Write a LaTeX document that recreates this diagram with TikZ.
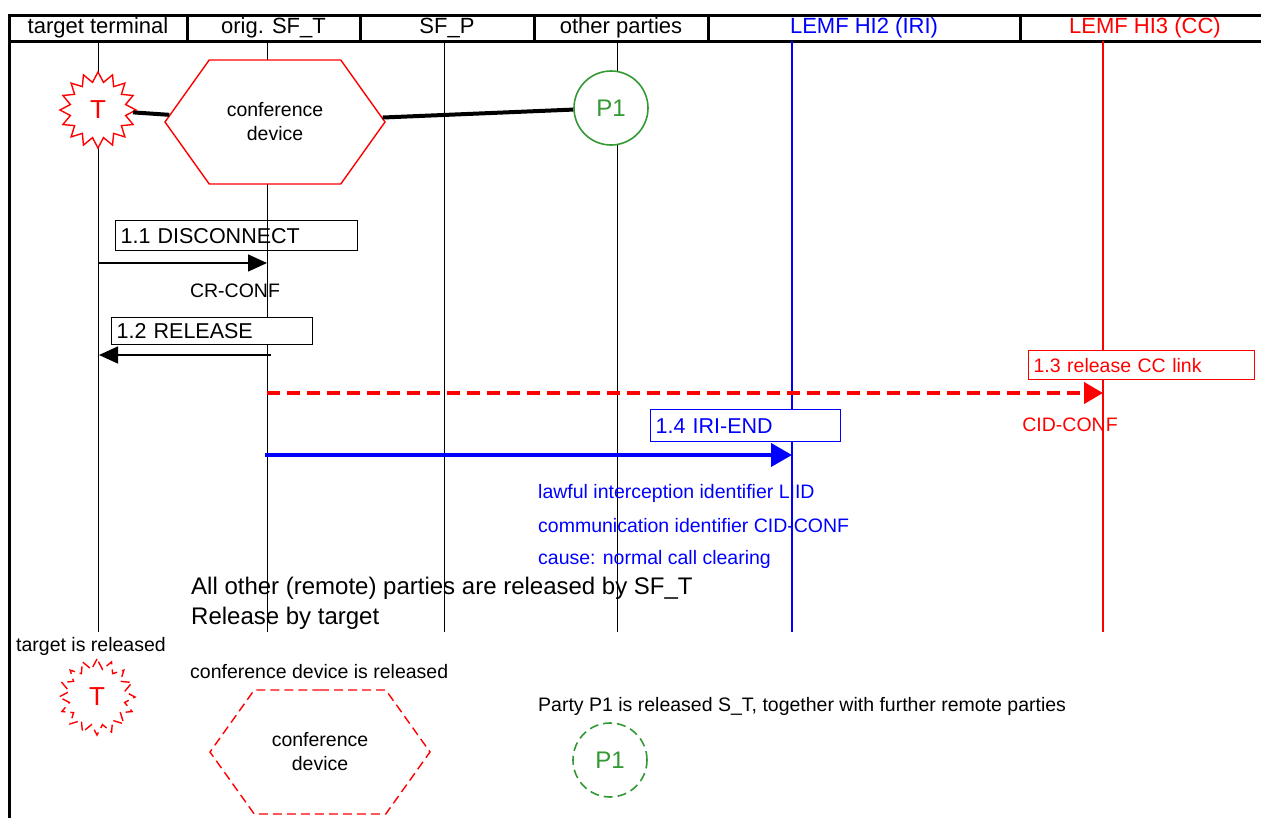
\documentclass[tikz,border=0pt]{standalone}
\usepackage{fontspec}
\setmainfont{Liberation Sans}
\usetikzlibrary{arrows.meta,
                positioning,
                shapes.geometric,
                shapes.symbols}
\definecolor{hired}{RGB}{255,0,0}
\definecolor{hiblue}{RGB}{0,0,255}
\definecolor{partygreen}{RGB}{51,153,51}
\newcommand{\pxfont}[2]{\fontsize{#1}{#2}\selectfont}
\tikzset{
        hdr/.style={draw, line width=3pt, outer sep=0pt, inner sep=0pt,
                    minimum height=26, font=\pxfont{22}{26}},
        msgbox/.style={draw, fill=white, line width=1.2pt, align=left,
                       inner xsep=5pt, inner ysep=0pt, anchor=north west,
                       font=\pxfont{21.5}{24}},
        msg/.style={-{Triangle[length=19pt,width=17pt]}, line width=1.5pt},
        link/.style={line width=4pt},
        target/.style={star, star points=16, star point ratio=1.35,
                       minimum size=76, draw=hired, fill=white,
                       line width=1.4pt, text=hired, inner sep=0pt,
                       font=\pxfont{26}{26}},
        party/.style={circle, minimum size=74, draw=partygreen, fill=white,
                      line width=1.6pt, text=partygreen, inner sep=0pt,
                      font=\pxfont{24}{24}},
        device/.style={signal, signal to=west and east,
                       signal pointer angle=109, minimum width=220,
                       minimum height=124, draw=hired, fill=white,
                       line width=1.4pt, align=center, inner sep=0pt,
                       font=\pxfont{19.5}{24}},
        note/.style={inner sep=0pt, font=\pxfont{19.5}{24}},
        released/.style={dash pattern=on 9pt off 5pt},
 }

\begin{document}
\begin{tikzpicture}[x=1pt, y=-1pt, node distance=0pt]
    \useasboundingbox (0,0) rectangle (1261,817);

    % header row
    \node[hdr, minimum width=178, anchor=west] (hTT) at (9,28) {target terminal};
    \node[hdr, minimum width=173, right=of hTT] (hST) {orig. SF\_T};
    \node[hdr, minimum width=174, right=of hST] (hSP) {SF\_P};
    \node[hdr, minimum width=174, right=of hSP] (hOP) {other parties};
    \node[hdr, minimum width=312, right=of hOP, text=hiblue] (hH2) {LEMF HI2 (IRI)};
    \node[hdr, minimum width=250, right=of hH2, text=hired] (hH3) {LEMF HI3 (CC)};
    \draw[line width=3pt] (hTT.north west) -- ++(0,804);

    % lifelines
    \foreach \n/\x/\c/\w in {lT/98/black/1, lST/267/black/1, lSP/444/black/1,
                             lOP/617/black/1, lH2/792/hiblue/1.5, lH3/1103/hired/1.5}
        \draw[draw=\c, line width=\w] (\x,41) coordinate (\n) -- (\x,632) coordinate (\n end);

    % conference set up
    \node[target] (T) at (98,110) {T};
    \node[device] (conf) at (275,122) {conference\\device};
    \node[party] (P1) at (611,108) {P1};
    \draw[link] (T) -- (conf);
    \draw[link] (conf) -- (P1);

    % 1.1
    \node[msgbox, fill=none, text width=232, minimum height=30] (disc) at (115,220) {1.1 DISCONNECT};
    \coordinate (discA) at (98,263);
    \coordinate (discB) at (267,263);
    \draw[msg] (discA) -- (discB);
    \node[note] (crconf) at (235,291) {CR-CONF};

    % 1.2
    \node[msgbox, text width=191, minimum height=27] (rel) at (111,317) {1.2 RELEASE};
    \coordinate (relA) at (271,355);
    \coordinate (relB) at (99,355);
    \draw[msg] (relA) -- (relB);

    % 1.3
    \node[msgbox, draw=hired, text=hired, text width=216, minimum height=29,
          font=\pxfont{19.5}{24}] (cclink) at (1028,350) {1.3 release CC link};
    \coordinate (ccA) at (267,393);
    \coordinate (ccB) at (1103,393);
    \draw[hired, line width=4pt, dash pattern=on 13pt off 7pt,
          -{Triangle[length=19pt,width=21pt]}] (ccA) -- (ccB);
    \node[note, text=hired] (cid) at (1070,425) {CID-CONF};

    % 1.4
    \node[msgbox, draw=hiblue, text=hiblue, text width=180, minimum height=32] (iri) at (650,409) {1.4 IRI-END};
    \coordinate (iriA) at (265,455);
    \coordinate (iriB) at (792,455);
    \draw[hiblue, line width=4pt, -{Triangle[length=21pt,width=23pt]}] (iriA) -- (iriB);
    \node[note, text=hiblue, anchor=west] (liid) at (538,493) {lawful interception identifier LIID};
    \node[note, text=hiblue, anchor=west] (cidconf) at (538,526) {communication identifier CID-CONF};
    \node[note, text=hiblue, anchor=west] (cause) at (538,559) {cause: normal call clearing};

    \node[anchor=west, inner sep=0pt, align=left, font=\pxfont{24}{30}] (remote) at (191,603)
        {All other (remote) parties are released by SF\_T\\Release by target};

    % after release
    \node[note, anchor=west] (tgone) at (16,646) {target is released};
    \node[target, released] (Tgone) at (97,697) {T};
    \node[note, anchor=west] (confgone) at (190,672) {conference device is released};
    \node[device, released] (confoff) at (320,752) {conference\\device};
    \node[note, anchor=west] (pgone) at (538,706) {Party P1 is released S\_T, together with further remote parties};
    \node[party, released] (P1off) at (610,760) {P1};
\end{tikzpicture}
\end{document}
